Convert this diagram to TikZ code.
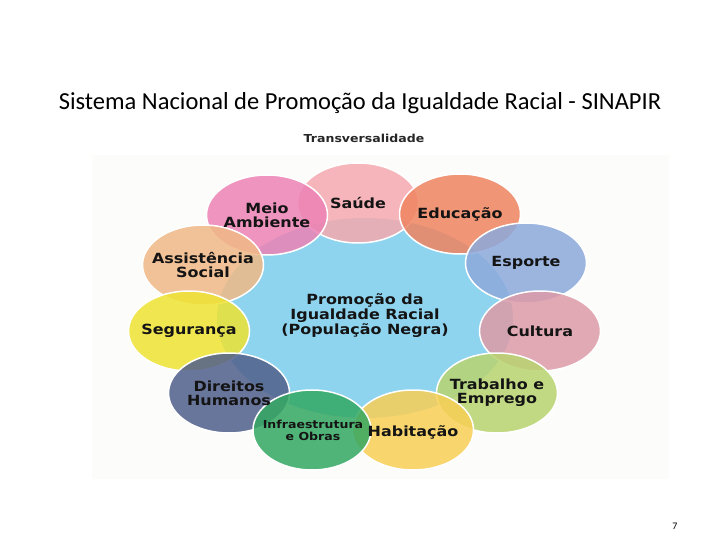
\documentclass[tikz,border=0pt]{standalone}
\usepackage{fontspec}
\setmainfont{Carlito}
\newfontfamily\lblfont[FakeStretch=1.14]{DejaVu Sans}
\usetikzlibrary{shapes.geometric}
\definecolor{panel}{HTML}{FCFCFA}
\definecolor{blob}{HTML}{8FD4EF}
\definecolor{saude}{HTML}{F5A9AF}
\definecolor{meio}{HTML}{EC82B4}
\definecolor{educ}{HTML}{EF8460}
\definecolor{esporte}{HTML}{8CA9DB}
\definecolor{assist}{HTML}{F0B986}
\definecolor{segur}{HTML}{EEE332}
\definecolor{cultura}{HTML}{DD9BA7}
\definecolor{direitos}{HTML}{505F8B}
\definecolor{trab}{HTML}{B9D46F}
\definecolor{infra}{HTML}{33A862}
\definecolor{habit}{HTML}{F8CF55}
\begin{document}
\begin{tikzpicture}[x=1pt,y=-1pt]
\tikzstyle{every node}+=[inner sep=0pt]
\tikzstyle{bubble}=[ellipse, minimum width=121pt, minimum height=80pt, draw=white, line width=1.5pt, fill opacity=0.85]
\tikzstyle{lbl}=[font=\lblfont\bfseries\fontsize{14}{14}\selectfont, align=center, text=black!92]
\useasboundingbox (0,0) rectangle (720,540);
\node[font=\fontsize{24.5}{28}\selectfont] (titulo) at (360,103) {Sistema Nacional de Promoção da Igualdade Racial - SINAPIR};
\node[font=\lblfont\bfseries\fontsize{11}{13}\selectfont, text=black!85] (transv) at (364,138) {Transversalidade};
\fill[panel] (92,155) rectangle (669,479);
\node[ellipse, fill=blob, minimum width=296pt, minimum height=200pt] (centro) at (365,318) {};
\node[bubble, fill=saude] (saude) at (358,203) {};
\node[bubble, fill=meio] (meio) at (267,215) {};
\node[bubble, fill=educ] (educ) at (460,214) {};
\node[bubble, fill=assist] (assist) at (203,265) {};
\node[bubble, fill=esporte] (esporte) at (526,263) {};
\node[bubble, fill=segur] (segur) at (189,331) {};
\node[bubble, fill=cultura] (cultura) at (540,331) {};
\node[bubble, fill=direitos] (direitos) at (229,393) {};
\node[bubble, fill=trab] (trab) at (497,393) {};
\node[bubble, fill=habit] (habit) at (413,430) {};
\node[bubble, fill=infra, minimum width=118pt] (infra) at (312,430) {};
\node[lbl] (saude-t) at (saude) {Saúde};
\node[lbl] (meio-t) at (meio) {Meio\\Ambiente};
\node[lbl] (educ-t) at (educ) {Educação};
\node[lbl] (assist-t) at (assist) {Assistência\\Social};
\node[lbl] (esporte-t) at (esporte) {Esporte};
\node[lbl] (segur-t) at (segur) {Segurança};
\node[lbl] (cultura-t) at (cultura) {Cultura};
\node[lbl] (direitos-t) at (direitos) {Direitos\\Humanos};
\node[lbl] (trab-t) at (trab) {Trabalho e\\Emprego};
\node[lbl] (habit-t) at ([yshift=-2pt]habit) {Habitação};
\node[lbl, font=\lblfont\bfseries\fontsize{11}{12}\selectfont] (infra-t) at ([xshift=1pt]infra) {Infraestrutura\\e Obras};
\node[lbl, font=\lblfont\bfseries\fontsize{14}{15}\selectfont] (centro-t) at (365,316) {Promoção da\\Igualdade Racial\\(População Negra)};
\node[font=\fontsize{10}{12}\selectfont] (pagina) at (675,526) {7};
\end{tikzpicture}
\end{document}
